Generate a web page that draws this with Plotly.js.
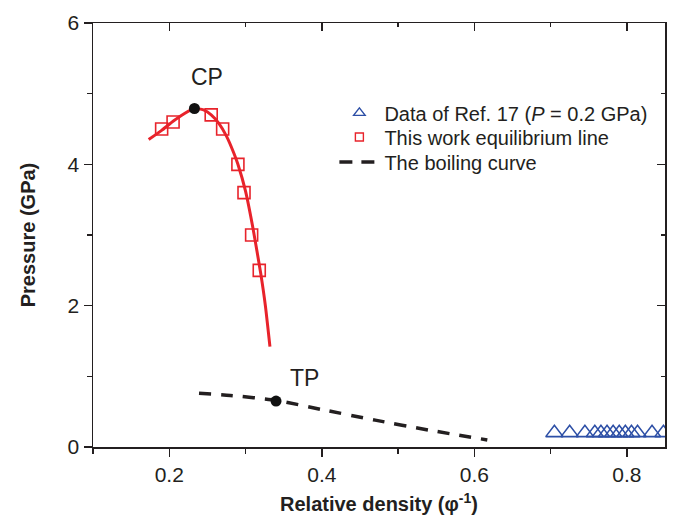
<!DOCTYPE html>
<html>
<head>
<meta charset="utf-8">
<script src="https://cdn.plot.ly/plotly-3.0.1.min.js"></script>
<style>html,body{margin:0;padding:0;background:#fff;}#plot{width:674px;height:520px;}</style>
</head>
<body>
<div id="plot"></div>
<script>
// Data of Ref. 17 (P = 0.2 GPa)
const refX = [0.705, 0.725, 0.745, 0.758, 0.766, 0.774, 0.782, 0.790, 0.798, 0.806, 0.814, 0.833, 0.848];
const refY = [0.2, 0.2, 0.2, 0.2, 0.2, 0.2, 0.2, 0.2, 0.2, 0.2, 0.2, 0.2, 0.2];
// This work equilibrium line (squares)
const sqX = [0.19, 0.205, 0.255, 0.27, 0.29, 0.298, 0.308, 0.318];
const sqY = [4.5, 4.6, 4.7, 4.5, 4.0, 3.6, 3.0, 2.5];
// Fitted equilibrium curve (red)
const fitX = [0.173, 0.19, 0.205, 0.22, 0.233, 0.245, 0.255, 0.265, 0.275, 0.285, 0.29, 0.30, 0.31, 0.32, 0.326, 0.332];
const fitY = [4.35, 4.48, 4.61, 4.72, 4.79, 4.77, 4.70, 4.58, 4.40, 4.15, 4.0, 3.62, 3.08, 2.45, 2.0, 1.42];
// Boiling curve (dashed)
const boilX = [0.239, 0.28, 0.34, 0.40, 0.47, 0.54, 0.617];
const boilY = [0.76, 0.73, 0.66, 0.53, 0.38, 0.24, 0.10];
// Critical point and triple point
const cpX = [0.233], cpY = [4.79];
const tpX = [0.340], tpY = [0.65];
const labels = ["CP", "TP"];
const labelX = [0.25, 0.377];
const labelY = [5.24, 0.98];
const legendNames = ['Data of Ref. 17 (<i>P</i> = 0.2 GPa)', 'This work equilibrium line', 'The boiling curve'];

const RED = '#e8232b', BLUE = '#2d4fa6', INK = '#231f20';
const FONT = 'Liberation Sans, Arial, sans-serif';

const traces = [
  {x: refX, y: refY, mode: 'markers', showlegend: false,
   marker: {symbol: 'triangle-up-open', size: 15, color: BLUE, line: {width: 1.6, color: BLUE}}},
  {x: sqX, y: sqY, mode: 'markers', showlegend: false,
   marker: {symbol: 'square-open', size: 12, color: RED, line: {width: 1.6, color: RED}}},
  {x: boilX, y: boilY, mode: 'lines', showlegend: false,
   line: {color: INK, width: 3.5, dash: '12px,10px', shape: 'spline', smoothing: 0.6}},
  {x: fitX, y: fitY, mode: 'lines', showlegend: false,
   line: {color: RED, width: 3, shape: 'spline', smoothing: 0.6}},
  {x: cpX, y: cpY, mode: 'markers', showlegend: false, marker: {color: '#111', size: 11}},
  {x: tpX, y: tpY, mode: 'markers', showlegend: false, marker: {color: '#111', size: 11}},
  // legend-only entries (smaller symbols as in the reference legend), one legend per row
  {x: [null], y: [null], mode: 'markers', name: legendNames[0], legend: 'legend',
   marker: {symbol: 'triangle-up-open', size: 10, color: BLUE, line: {width: 1.4, color: BLUE}}},
  {x: [null], y: [null], mode: 'markers', name: legendNames[1], legend: 'legend2',
   marker: {symbol: 'square-open', size: 8, color: RED, line: {width: 1.4, color: RED}}},
  {x: [null], y: [null], mode: 'lines', name: legendNames[2], legend: 'legend3',
   line: {color: INK, width: 3.5, dash: '13px,9px'}},
  {x: [0.1], y: [7], xaxis: 'x2', yaxis: 'y2', mode: 'markers', showlegend: false, hoverinfo: 'skip', marker: {opacity: 0}}
];

const axisCommon = {showgrid: false, zeroline: false, showline: true, linecolor: INK, linewidth: 1.5,
  tickcolor: INK, tickwidth: 1.5, tickfont: {family: FONT, size: 21, color: INK}};

const legBase = {x: 0.422, xanchor: 'left', yanchor: 'middle', bgcolor: 'rgba(0,0,0,0)',
  font: {family: FONT, size: 20, color: INK}, itemwidth: 40};

const layout = {
  width: 674, height: 520,
  margin: {l: 93, r: 9, t: 23, b: 73},
  paper_bgcolor: '#fff', plot_bgcolor: '#fff',
  showlegend: true,
  legend: Object.assign({}, legBase, {y: 0.788}),
  legend2: Object.assign({}, legBase, {y: 0.731}),
  legend3: Object.assign({}, legBase, {y: 0.672}),
  xaxis: Object.assign({}, axisCommon, {range: [0.1, 0.85], tickmode: 'array', tickvals: [0.2, 0.4, 0.6, 0.8],
    ticktext: ['0.2', '0.4', '0.6', '0.8'], ticks: 'outside', ticklen: 8,
    minor: {tickvals: [0.1, 0.3, 0.5, 0.7], ticks: 'outside', ticklen: 5, tickcolor: INK, tickwidth: 1.5},
    title: {text: '<b>Relative density (φ<sup>-1</sup>)</b>', font: {family: FONT, size: 20, color: INK}, standoff: 12}}),
  yaxis: Object.assign({}, axisCommon, {range: [0, 6], tickmode: 'array', tickvals: [0, 2, 4, 6],
    ticks: 'outside', ticklen: 8,
    minor: {tickvals: [1, 3, 5], ticks: 'outside', ticklen: 5, tickcolor: INK, tickwidth: 1.5},
    title: {text: '<b>Pressure (GPa)</b>', font: {family: FONT, size: 20, color: INK}, standoff: 26}}),
  xaxis2: Object.assign({}, axisCommon, {overlaying: 'x', side: 'top', anchor: 'y2', range: [0.1, 0.85],
    tickmode: 'array', tickvals: [0.2, 0.4, 0.6, 0.8], showticklabels: false, ticks: 'inside', ticklen: 8,
    minor: {tickvals: [0.1, 0.3, 0.5, 0.7], ticks: 'inside', ticklen: 4, tickcolor: INK, tickwidth: 1.5}}),
  yaxis2: Object.assign({}, axisCommon, {overlaying: 'y', side: 'right', anchor: 'x2', range: [0, 6],
    tickmode: 'array', tickvals: [0, 2, 4, 6], showticklabels: false, ticks: 'inside', ticklen: 8,
    minor: {tickvals: [1, 3, 5], ticks: 'inside', ticklen: 4, tickcolor: INK, tickwidth: 1.5}}),
  annotations: labels.map((t, i) => ({x: labelX[i], y: labelY[i], xref: 'x', yref: 'y', text: t, showarrow: false,
    font: {family: FONT, size: 23, color: INK}}))
};

Plotly.newPlot('plot', traces, layout, {displayModeBar: false, staticPlot: true});
</script>
</body>
</html>
